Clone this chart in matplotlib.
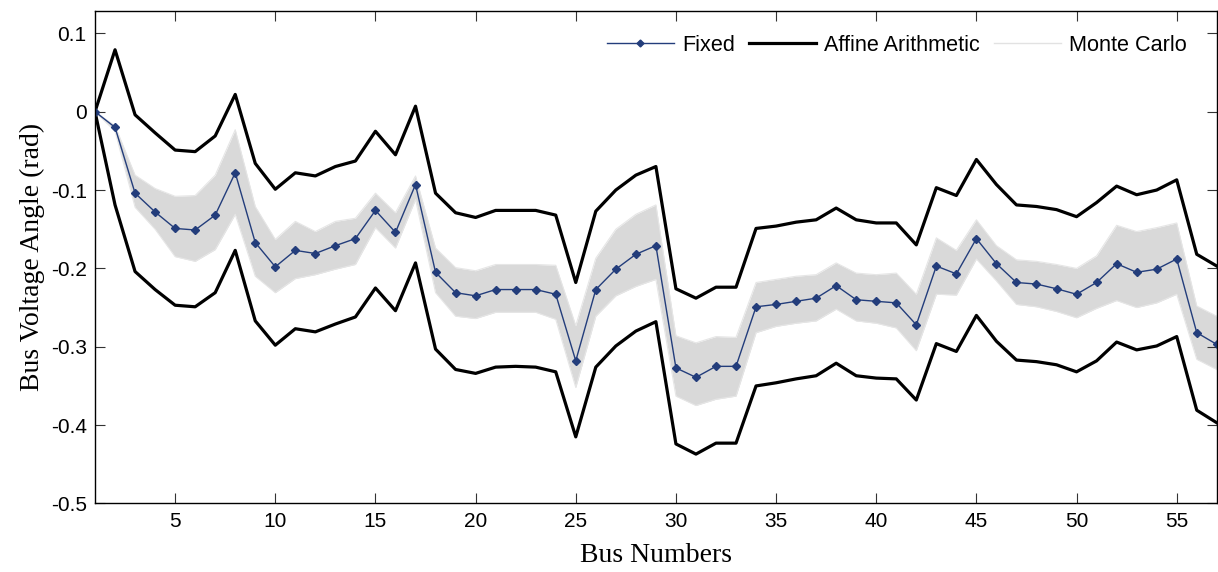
import numpy as np
import matplotlib
matplotlib.use('Agg')
import matplotlib.pyplot as plt

plt.rcParams['axes.unicode_minus'] = False

# Dados (barras 1..57)
bus = np.arange(1, 58)

fixed = [0, -0.020, -0.104, -0.128, -0.149, -0.151, -0.132, -0.078, -0.167, -0.198,
         -0.177, -0.181, -0.171, -0.162, -0.126, -0.154, -0.093, -0.205, -0.231, -0.235,
         -0.227, -0.227, -0.227, -0.233, -0.318, -0.227, -0.201, -0.182, -0.171, -0.327,
         -0.339, -0.325, -0.325, -0.249, -0.246, -0.242, -0.238, -0.222, -0.240, -0.242,
         -0.244, -0.272, -0.197, -0.207, -0.162, -0.194, -0.218, -0.220, -0.226, -0.233,
         -0.218, -0.194, -0.205, -0.201, -0.188, -0.282, -0.297]

aa_upper = [0, 0.079, -0.004, -0.027, -0.049, -0.051, -0.031, 0.022, -0.066, -0.099,
            -0.078, -0.082, -0.070, -0.063, -0.025, -0.055, 0.007, -0.104, -0.129, -0.135,
            -0.126, -0.126, -0.126, -0.132, -0.218, -0.127, -0.100, -0.081, -0.070, -0.226,
            -0.238, -0.224, -0.224, -0.149, -0.146, -0.141, -0.138, -0.123, -0.138, -0.142,
            -0.142, -0.170, -0.097, -0.107, -0.061, -0.093, -0.119, -0.121, -0.125, -0.134,
            -0.116, -0.095, -0.106, -0.100, -0.087, -0.182, -0.197]

aa_lower = [0, -0.119, -0.204, -0.227, -0.247, -0.249, -0.231, -0.177, -0.267, -0.298,
            -0.277, -0.281, -0.271, -0.262, -0.225, -0.254, -0.193, -0.303, -0.329, -0.334,
            -0.326, -0.325, -0.326, -0.332, -0.415, -0.326, -0.299, -0.280, -0.268, -0.424,
            -0.437, -0.423, -0.423, -0.350, -0.346, -0.341, -0.337, -0.321, -0.337, -0.340,
            -0.341, -0.368, -0.296, -0.306, -0.260, -0.293, -0.317, -0.319, -0.323, -0.332,
            -0.318, -0.294, -0.304, -0.299, -0.287, -0.381, -0.397]

mc_upper = [0, -0.018, -0.081, -0.098, -0.108, -0.107, -0.081, -0.023, -0.121, -0.163,
            -0.140, -0.153, -0.140, -0.136, -0.104, -0.129, -0.082, -0.174, -0.199, -0.203,
            -0.195, -0.195, -0.195, -0.196, -0.273, -0.187, -0.150, -0.131, -0.119, -0.286,
            -0.295, -0.287, -0.288, -0.218, -0.214, -0.210, -0.208, -0.193, -0.206, -0.208,
            -0.206, -0.233, -0.161, -0.177, -0.138, -0.171, -0.189, -0.191, -0.195, -0.200,
            -0.184, -0.145, -0.153, -0.148, -0.142, -0.248, -0.261]

mc_lower = [0, -0.025, -0.122, -0.150, -0.185, -0.191, -0.176, -0.131, -0.210, -0.231,
            -0.213, -0.208, -0.201, -0.195, -0.148, -0.174, -0.112, -0.231, -0.261, -0.264,
            -0.256, -0.256, -0.256, -0.265, -0.352, -0.261, -0.235, -0.223, -0.214, -0.363,
            -0.375, -0.367, -0.363, -0.282, -0.274, -0.270, -0.267, -0.252, -0.267, -0.270,
            -0.276, -0.305, -0.233, -0.234, -0.188, -0.216, -0.246, -0.249, -0.255, -0.263,
            -0.251, -0.241, -0.250, -0.244, -0.233, -0.316, -0.329]

xticks = [5, 10, 15, 20, 25, 30, 35, 40, 45, 50, 55]
yticks = [0.1, 0, -0.1, -0.2, -0.3, -0.4, -0.5]

fig = plt.figure(figsize=(12.18, 5.72), dpi=100)
ax = fig.add_axes([0.078, 0.1198, 0.921, 0.861])

# faixa Monte Carlo
ax.fill_between(bus, mc_lower, mc_upper, color='#d9d9d9', lw=0)
ax.plot(bus, mc_upper, color='#e6e6e6', lw=0.8)
ax.plot(bus, mc_lower, color='#e6e6e6', lw=0.8)

ax.plot(bus, aa_upper, color='black', lw=2.3)
ax.plot(bus, aa_lower, color='black', lw=2.3)

ax.plot(bus, fixed, color='#233d7b', lw=1.0, marker='D', ms=4.5,
        mec='#233d7b', mfc='#233d7b')

# legenda
h1, = ax.plot([], [], color='#233d7b', lw=1.0, marker='D', ms=3.5)
h2, = ax.plot([], [], color='black', lw=2.3)
h3, = ax.plot([], [], color='#e2e2e2', lw=1.0)
ax.legend([h1, h2, h3], ['Fixed', 'Affine Arithmetic', 'Monte Carlo'], ncol=3,
          loc='upper right', bbox_to_anchor=(0.9944, 1.0), frameon=False,
          handlelength=3.1, handletextpad=0.37, columnspacing=0.65,
          borderaxespad=0.7, prop={'family': 'Liberation Sans', 'size': 15.6})

ax.set_xlim(1, 57)
ax.set_ylim(-0.5, 0.1285)
ax.set_xticks(xticks)
ax.set_yticks(yticks)
ax.set_yticklabels(['0.1', '0', '-0.1', '-0.2', '-0.3', '-0.4', '-0.5'])
for lab in ax.get_xticklabels() + ax.get_yticklabels():
    lab.set_family('Liberation Sans')
    lab.set_fontsize(15)
ax.tick_params(direction='in', length=7, width=0.8, top=True, right=True,
               colors='#333333', labelcolor='black', pad=6)
for sp in ax.spines.values():
    sp.set_linewidth(1.0)

ax.set_xlabel('Bus Numbers', family='Liberation Serif', fontsize=20, labelpad=9)
ax.set_ylabel('Bus Voltage Angle (rad)', family='Liberation Serif', fontsize=20, labelpad=4)

fig.savefig('out.png', dpi=100)
